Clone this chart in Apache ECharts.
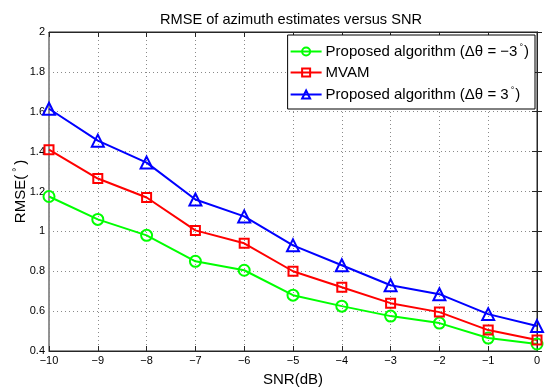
<!DOCTYPE html>
<html>
<head>
<meta charset="utf-8">
<script src="https://cdn.jsdelivr.net/npm/echarts@6/dist/echarts.min.js"></script>
<style>html,body{margin:0;padding:0;background:#fff;}#c{width:550px;height:390px;}</style>
</head>
<body>
<div id="c"></div>
<script>
var snr = [-10, -9, -8, -7, -6, -5, -4, -3, -2, -1, 0];
var proposedNeg3 = [1.175, 1.06, 0.98, 0.85, 0.805, 0.68, 0.625, 0.575, 0.54, 0.465, 0.435];
var mvam = [1.41, 1.265, 1.17, 1.005, 0.94, 0.80, 0.72, 0.64, 0.595, 0.505, 0.455];
var proposedPos3 = [1.615, 1.455, 1.345, 1.16, 1.075, 0.93, 0.83, 0.73, 0.685, 0.585, 0.525];
var yTicks = {min: 0.4, max: 2, interval: 0.2};
var xTicks = {min: -10, max: 0, interval: 1};
var seriesNames = ['Proposed algorithm (\u0394\u03b8 = \u22123', 'MVAM', 'Proposed algorithm (\u0394\u03b8 = 3'];

function pairs(v){ return snr.map(function(x,i){ return [x, v[i]]; }); }

var font = 'Liberation Sans, Arial, sans-serif';
var chart = echarts.init(document.getElementById('c'), null, {renderer:'canvas'});

function mk(name, data, color, symbol, size){
  return {
    name: name, type: 'line', data: pairs(data),
    symbol: symbol, symbolSize: size,
    lineStyle: {color: color, width: 2},
    itemStyle: {color: 'rgba(255,255,255,0)', borderColor: color, borderWidth: 2},
    emphasis: {disabled: true},
    animation: false, z: 3
  };
}

var legendFmt = function(name){
  if (name === 'MVAM') return '{a|MVAM}';
  return '{a|' + name + '}{s|\u00b0}{a|)}';
};

chart.setOption({
  backgroundColor: '#fff',
  animation: false,
  title: {
    text: 'RMSE of azimuth estimates versus SNR',
    left: 155, top: 7,
    textStyle: {fontFamily: font, fontSize: 14.6, fontWeight: 'normal', color: '#000'}
  },
  grid: {left: 49, right: 13, top: 32, bottom: 39, show: true, borderColor: '#262626', borderWidth: 1,
    containLabel: false, outerBoundsMode: 'none'},
  legend: {
    orient: 'vertical', right: 15, top: 35,
    backgroundColor: '#fff', borderColor: '#000', borderWidth: 1,
    padding: [8, 6, 7, 2], itemGap: 6, itemWidth: 31, itemHeight: 10,
    data: seriesNames,
    formatter: legendFmt,
    textStyle: {
      fontFamily: font, fontSize: 15, color: '#000', padding: [0,0,0,-1],
      rich: {
        a: {fontFamily: font, fontSize: 15, color: '#000'},
        s: {fontFamily: font, fontSize: 9, color: '#000', verticalAlign: 'top', padding: [0,1,8,2]}
      }
    }
  },
  xAxis: [{
    type: 'value', min: xTicks.min, max: xTicks.max, interval: xTicks.interval,
    name: 'SNR(dB)', nameLocation: 'middle', nameGap: 21, nameMoveOverlap: false,
    nameTextStyle: {fontFamily: font, fontSize: 15, color: '#000'},
    axisLine: {show: true, lineStyle: {color: '#262626'}},
    axisTick: {inside: true, length: 5, lineStyle: {color: '#262626'}},
    axisLabel: {fontFamily: font, fontSize: 11, color: '#000', margin: 4,
      formatter: function(v){ return v < 0 ? '\u2212' + Math.abs(v) : String(v); }},
    splitLine: {show: true, lineStyle: {color: '#8a8a8a', type: [1, 3], width: 1}}
  }, {
    type: 'value', position: 'top', min: xTicks.min, max: xTicks.max, interval: xTicks.interval,
    axisLine: {show: true, lineStyle: {color: '#262626'}},
    axisTick: {inside: true, length: 5, lineStyle: {color: '#262626'}},
    axisLabel: {show: false}, splitLine: {show: false}
  }],
  yAxis: [{
    type: 'value', min: yTicks.min, max: yTicks.max, interval: yTicks.interval,
    name: '{a|RMSE(}{s|\u00b0}{a|)}', nameLocation: 'middle', nameGap: 19, nameMoveOverlap: false,
    nameTextStyle: {fontFamily: font, fontSize: 15, color: '#000',
      rich: {
        a: {fontFamily: font, fontSize: 15, color: '#000'},
        s: {fontFamily: font, fontSize: 10, color: '#000', verticalAlign: 'top', padding: [0,3,8,3]}
      }},
    axisLine: {show: true, lineStyle: {color: '#262626'}},
    axisTick: {inside: true, length: 5, lineStyle: {color: '#262626'}},
    axisLabel: {fontFamily: font, fontSize: 11, color: '#000', margin: 4,
      formatter: function(v){ return String(Math.round(v*10)/10); }},
    splitLine: {show: true, lineStyle: {color: '#8a8a8a', type: [1, 3], width: 1}}
  }, {
    type: 'value', position: 'right', min: yTicks.min, max: yTicks.max, interval: yTicks.interval,
    axisLine: {show: true, lineStyle: {color: '#262626'}},
    axisTick: {inside: true, length: 5, lineStyle: {color: '#262626'}},
    axisLabel: {show: false}, splitLine: {show: false}
  }],
  series: [
    mk(seriesNames[0], proposedNeg3, '#00ff00', 'circle', 11),
    mk(seriesNames[1], mvam, '#ff0000', 'rect', 9),
    mk(seriesNames[2], proposedPos3, '#0000ff', 'triangle', 12)
  ]
});
</script>
</body>
</html>
